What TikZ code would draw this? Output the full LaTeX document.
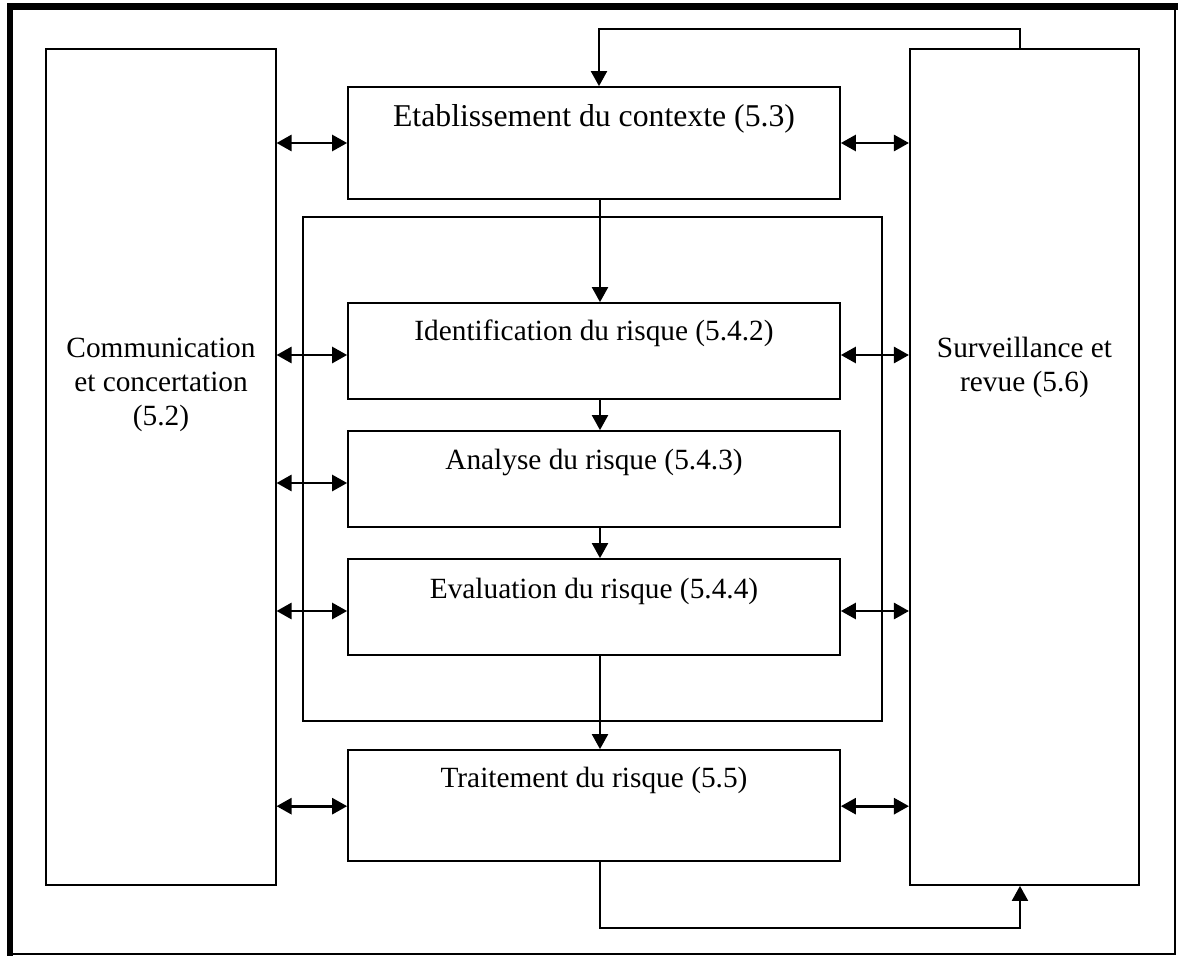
\documentclass[tikz,border=0pt]{standalone}
\usepackage{fontspec}
\setmainfont{Liberation Serif}
\usetikzlibrary{arrows.meta,calc}

\begin{document}
\begin{tikzpicture}[x=0.75pt,y=-0.75pt,
  box/.style={draw,line width=1.3pt,rectangle,inner sep=0pt},
  midbox/.style={box,minimum width=369pt,minimum height=72pt},
  sidebox/.style={box,minimum width=172pt,minimum height=627pt},
  lbl/.style={anchor=base,inner sep=0pt,font=\fontsize{22}{25.5}\selectfont},
  biglbl/.style={lbl,font=\fontsize{23.8}{27}\selectfont},
  flow/.style={line width=1.6pt,-{Triangle[length=11.25pt,width=12pt]}},
  both/.style={line width=2pt,{Triangle[length=11.25pt,width=12pt]}-{Triangle[length=11.25pt,width=12pt]}},
]
\useasboundingbox (0,0) rectangle (1178,956);

% page frame: thin right and bottom, heavy top and left
\draw[line width=1.5pt] (10,7) rectangle (1175,954);
\draw[line width=5pt] (1177.5,6.5) -- (10,6.5) -- (10,956);

% side columns
\node[sidebox] (comm) at (161,467) {};
\node[sidebox] (surv) at (1024.5,467) {};

% central chain
\node[box,minimum width=369pt,minimum height=84pt] (ctx) at (594,143) {};
\node[box,minimum width=434.25pt,minimum height=378pt] (assess) at (592.5,469) {};
\node[midbox] (ident) at (594,351) {};
\node[midbox] (anal) at (594,479) {};
\node[midbox] (eval) at (594,607) {};
\node[box,minimum width=369pt,minimum height=83.25pt] (treat) at (594,805.5) {};

% texts
\node[lbl] (commt) at ([yshift=-231.75pt]comm.north) {\begin{tabular}[t]{@{}c@{}}Communication\\et concertation\\(5.2)\end{tabular}};
\node[lbl] (survt) at ([yshift=-231.75pt]surv.north) {\begin{tabular}[t]{@{}c@{}}Surveillance et\\revue (5.6)\end{tabular}};
\node[biglbl] (ctxt) at ([yshift=-30.4pt]ctx.north) {Etablissement du contexte (5.3)};
\node[lbl] (identt) at ([yshift=-28.5pt]ident.north) {Identification du risque (5.4.2)};
\node[lbl] (analt) at ([yshift=-29.8pt]anal.north) {Analyse du risque (5.4.3)};
\node[lbl] (evalt) at ([yshift=-30pt]eval.north) {Evaluation du risque (5.4.4)};
\node[lbl] (treatt) at ([yshift=-28.5pt]treat.north) {Traitement du risque (5.5)};

% downward flow
\draw[flow] ([xshift=4.5pt]ctx.south) -- ([xshift=4.5pt]ident.north);
\draw[flow] ([xshift=4.5pt]ident.south) -- ([xshift=4.5pt]anal.north);
\draw[flow] ([xshift=4.5pt]anal.south) -- ([xshift=4.5pt]eval.north);
\draw[flow] ([xshift=4.5pt]eval.south) -- ([xshift=4.5pt]treat.north);

% exchanges with the side columns
\coordinate (yc) at (ctx.west);
\coordinate (yi) at ([yshift=-3pt]ident.west);
\coordinate (ya) at ([yshift=-3pt]anal.west);
\coordinate (ye) at ([yshift=-3pt]eval.west);
\coordinate (yt) at ([yshift=-0.5pt]treat.west);
\foreach \c in {yc,yi,ya,ye,yt}
  \draw[both] (\c -| comm.east) -- (\c);
\coordinate (rc) at (ctx.east);
\coordinate (ri) at ([yshift=-3pt]ident.east);
\coordinate (re) at ([yshift=-3pt]eval.east);
\coordinate (rt) at ([yshift=-0.5pt]treat.east);
\foreach \c in {rc,ri,re,rt}
  \draw[both] (\c) -- (\c -| surv.west);

% feedback loops
\coordinate (topbend) at (800,29);
\coordinate (botbend) at (800,928);
\draw[flow,line width=1.5pt] ([xshift=-3.4pt]surv.north) |- (topbend) -| ([xshift=3.75pt]ctx.north);
\draw[flow,line width=1.5pt] ([xshift=4.5pt]treat.south) |- (botbend) -| ([xshift=-3.4pt]surv.south);
\end{tikzpicture}
\end{document}
